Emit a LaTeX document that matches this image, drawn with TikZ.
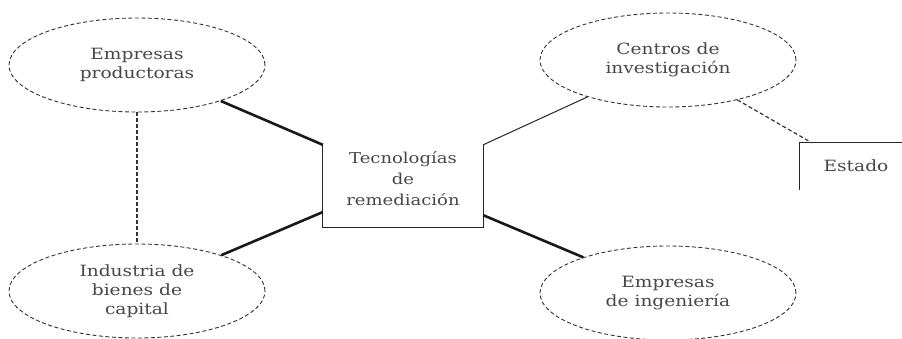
\documentclass[tikz,border=0pt]{standalone}
\usepackage{fontspec}
\setmainfont[FakeStretch=1.2]{DejaVu Serif}
\usetikzlibrary{shapes.geometric,calc}
\begin{document}
\begin{tikzpicture}[x=1pt,y=-1pt,
  txt/.style={text=black!72,font=\fontsize{15.5}{19}\selectfont,align=center},
  oval/.style={ellipse,draw=black!80,line width=0.9pt,dash pattern=on 4pt off 2.5pt,
    minimum width=256pt,minimum height=94pt,inner sep=0pt,txt},
  boxnode/.style={rectangle,minimum width=160pt,minimum height=82pt,inner sep=0pt},
  heavy/.style={line width=2.6pt,black!90},
  light/.style={line width=1pt,black!85},
  dotline/.style={line width=2.6pt,black!80,dash pattern=on 4pt off 2pt},
  thindash/.style={line width=1.2pt,black!80,dash pattern=on 4pt off 2.5pt},
  edge/.style={line width=1pt,black!85}]
\useasboundingbox (0,0) rectangle (902,339);
\node[oval] (ep) at (137,65) {Empresas\\productoras};
\node[oval] (ind) at (137,291) {Industria de\\bienes de\\capital};
\node[oval] (cen) at (668,60) {Centros de\\investigación};
\node[oval] (ing) at (668,293) {Empresas\\de ingeniería};
\node[boxnode] (box) at (403,186) {};
\node[txt,font=\fontsize{15}{21}\selectfont] (boxtxt) at (403,179) {Tecnologías\\de\\remediación};
\node[minimum width=102pt,minimum height=47pt,inner sep=0pt] (est) at (851,166.5) {};
\node[txt] (esttxt) at (856,166) {Estado};
\draw[edge] (box.north west) -- (box.south west) -- (box.south east) -- (box.north east);
\draw[edge] (est.south west) -- (est.north west) -- (est.north east);
\draw[heavy] (ep) -- (box.north west);
\draw[heavy] (ind) -- (box.198.6);
\draw[heavy] (box.-20) -- (ing);
\draw[light] (cen) -- (box.north east);
\coordinate (estin) at ($(est.north west)+(12,0)$);
\draw[thindash] (cen) -- (estin);
\draw[dotline] (ep.south) -- (ind.north);
\end{tikzpicture}
\end{document}
